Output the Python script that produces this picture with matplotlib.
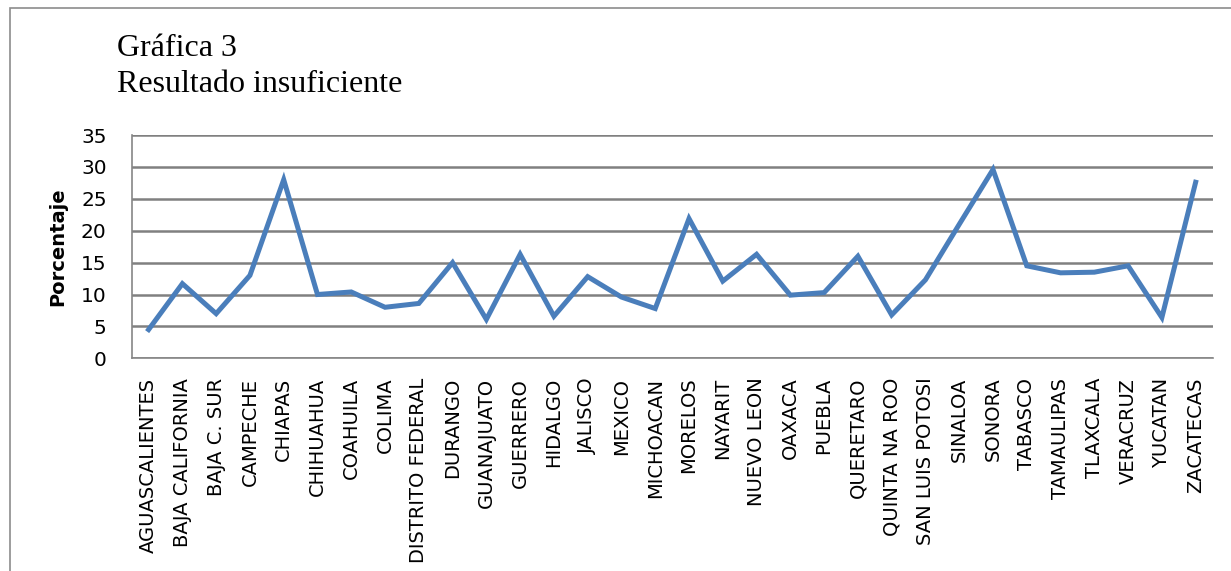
import numpy as np
import matplotlib
matplotlib.use('Agg')
import matplotlib.pyplot as plt
from matplotlib.patches import Rectangle

# estados y porcentaje con resultado insuficiente
estados = ['AGUASCALIENTES', 'BAJA CALIFORNIA', 'BAJA C. SUR', 'CAMPECHE', 'CHIAPAS',
           'CHIHUAHUA', 'COAHUILA', 'COLIMA', 'DISTRITO FEDERAL', 'DURANGO',
           'GUANAJUATO', 'GUERRERO', 'HIDALGO', 'JALISCO', 'MEXICO', 'MICHOACAN',
           'MORELOS', 'NAYARIT', 'NUEVO LEON', 'OAXACA', 'PUEBLA', 'QUERETARO',
           'QUINTA NA ROO', 'SAN LUIS POTOSI', 'SINALOA', 'SONORA', 'TABASCO',
           'TAMAULIPAS', 'TLAXCALA', 'VERACRUZ', 'YUCATAN', 'ZACATECAS']
porcentaje = [4.5, 11.7, 7.0, 13.0, 28.0, 10.0, 10.4, 8.0, 8.6, 15.0,
              6.1, 16.3, 6.6, 12.8, 9.6, 7.8, 21.9, 12.1, 16.3, 9.9,
              10.3, 16.0, 6.8, 12.3, 21.0, 29.6, 14.5, 13.4, 13.5, 14.5,
              6.4, 27.6]
yticks = [0, 5, 10, 15, 20, 25, 30, 35]

fig = plt.figure(figsize=(12.31, 5.71), dpi=100)
# marco del grafico
fig.patches.append(Rectangle((10 / 1231, -0.01), 1.0, 1.01 - 8 / 571, transform=fig.transFigure,
                             fill=False, edgecolor='#8c8c8c', linewidth=1.2))

ax = fig.add_axes([0.107, 0.3725, 0.878, 0.391])
x = np.arange(len(estados))
ax.plot(x, porcentaje, color='#4a7ebb', linewidth=3.6, solid_joinstyle='miter')

ax.set_xlim(-0.5, len(estados) - 0.5)
ax.set_ylim(0, 35)
ax.set_yticks(yticks)
ax.set_yticklabels([str(v) for v in yticks], fontsize=14.5, family='DejaVu Sans')
ax.set_xticks(x)
ax.set_xticklabels(estados, rotation=90, fontsize=14, family='DejaVu Sans')
ax.tick_params(axis='x', length=0, pad=14)
ax.tick_params(axis='y', length=0, pad=18)
ax.yaxis.grid(True, color='#808080', linewidth=1.8)
ax.set_axisbelow(True)
for s in ['top', 'right']:
    ax.spines[s].set_visible(False)
for s in ['left', 'bottom']:
    ax.spines[s].set_color('#868686')
    ax.spines[s].set_linewidth(1.2)

ax.set_ylabel('Porcentaje', fontsize=14, fontweight='bold', family='DejaVu Sans', labelpad=10)

fig.text(117 / 1231, 1 - 48 / 571, 'Gráfica 3', fontsize=23, family='Liberation Serif', va='center')
fig.text(117 / 1231, 1 - 85 / 571, 'Resultado insuficiente', fontsize=23, family='Liberation Serif', va='center')

fig.savefig('out.png', dpi=100)
